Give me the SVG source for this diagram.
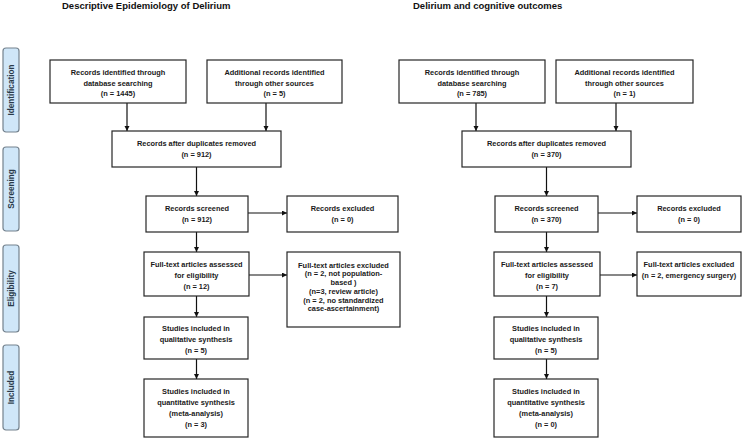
<svg xmlns="http://www.w3.org/2000/svg" width="743" height="439" viewBox="0 0 743 439">
<style>
.bg{fill:#ffffff}
.box rect{fill:#ffffff;stroke:#262626;stroke-width:1.2}
.box text, .t{font-family:"Liberation Sans",Arial,sans-serif;font-weight:bold;font-size:7.4px;fill:#1a1a1a;text-anchor:middle}
.title{font-family:"Liberation Sans",Arial,sans-serif;font-weight:bold;font-size:9.5px;fill:#111111}
.phase rect{fill:#cfe6f8;stroke:#74828e;stroke-width:1.2}
.phase text{font-family:"Liberation Sans",Arial,sans-serif;font-weight:bold;font-size:8.2px;fill:#2a3a4a;text-anchor:middle}
.conn line{stroke:#111111;stroke-width:1.2;marker-end:url(#ah)}
</style>
<defs>
<marker id="ah" markerUnits="userSpaceOnUse" markerWidth="6" markerHeight="6" refX="5" refY="2.5" orient="auto">
<path d="M0,0 L5,2.5 L0,5 Z" fill="#111111"/>
</marker>
</defs>
<rect class="bg" x="0" y="0" width="743" height="439"/>
<text class="title" x="62" y="9">Descriptive Epidemiology of Delirium</text>
<text class="title" x="413" y="9">Delirium and cognitive outcomes</text>

<g id="phase-identification" class="phase"><rect x="3" y="48" width="16" height="84" rx="3"/><text transform="translate(14,90) rotate(-90)">Identification</text></g>
<g id="phase-screening" class="phase"><rect x="3" y="147" width="16" height="84" rx="3"/><text transform="translate(14,189) rotate(-90)">Screening</text></g>
<g id="phase-eligibility" class="phase"><rect x="3" y="245" width="16" height="87" rx="3"/><text transform="translate(14,288.5) rotate(-90)">Eligibility</text></g>
<g id="phase-included" class="phase"><rect x="3" y="345" width="16" height="85" rx="3"/><text transform="translate(14,387.5) rotate(-90)">Included</text></g>

<g id="connectors" class="conn">
<line x1="127" y1="103" x2="127" y2="131"/>
<line x1="266" y1="103" x2="266" y2="131"/>
<line x1="196.5" y1="167" x2="196.5" y2="196"/>
<line x1="248" y1="213" x2="287" y2="213"/>
<line x1="196.5" y1="232" x2="196.5" y2="252"/>
<line x1="249" y1="275" x2="287" y2="275"/>
<line x1="196.5" y1="296" x2="196.5" y2="317"/>
<line x1="196.5" y1="359" x2="196.5" y2="379"/>
<line x1="476" y1="103" x2="476" y2="131"/>
<line x1="616" y1="103" x2="616" y2="131"/>
<line x1="546.5" y1="167" x2="546.5" y2="196"/>
<line x1="598" y1="213" x2="637" y2="213"/>
<line x1="546.5" y1="232" x2="546.5" y2="252"/>
<line x1="600" y1="275" x2="637" y2="275"/>
<line x1="546.5" y1="296" x2="546.5" y2="317"/>
<line x1="546.5" y1="359" x2="546.5" y2="379"/>
</g>

<g id="L1" class="box"><rect x="50" y="60" width="136" height="43"/><text x="118" y="74.7">Records identified through</text><text x="118" y="85.7">database searching</text><text x="118" y="96">(n = 1445)</text></g>
<g id="L2" class="box"><rect x="207" y="60" width="135" height="43"/><text x="274.5" y="74.7">Additional records identified</text><text x="274.5" y="85.7">through other sources</text><text x="274.5" y="96">(n = 5)</text></g>
<g id="L3" class="box"><rect x="112" y="131" width="169" height="36"/><text x="196.5" y="145.7">Records after duplicates removed</text><text x="196.5" y="156.7">(n = 912)</text></g>
<g id="L4" class="box"><rect x="146" y="196" width="102" height="36"/><text x="197" y="210.7">Records screened</text><text x="197" y="221.7">(n = 912)</text></g>
<g id="L5" class="box"><rect x="287" y="196" width="111" height="36"/><text x="342.5" y="210.7">Records excluded</text><text x="342.5" y="221.7">(n = 0)</text></g>
<g id="L6" class="box"><rect x="144" y="252" width="105" height="44"/><text x="196.5" y="266.7">Full-text articles assessed</text><text x="196.5" y="277.7">for eligibility</text><text x="196.5" y="288.7">(n = 12)</text></g>
<g id="L7" class="box"><rect x="287" y="252" width="113" height="75"/><text x="343.5" y="267.7">Full-text articles excluded</text><text x="343.5" y="276.4">(n = 2,  not population-</text><text x="343.5" y="285.1">based )</text><text x="343.5" y="293.8">(n=3, review article)</text><text x="343.5" y="302.5">(n = 2,  no standardized</text><text x="343.5" y="311.2">case-ascertainment)</text></g>
<g id="L8" class="box"><rect x="144" y="317" width="104" height="42"/><text x="196" y="330.7">Studies included in</text><text x="196" y="341.7">qualitative synthesis</text><text x="196" y="352.7">(n = 5)</text></g>
<g id="L9" class="box"><rect x="144" y="379" width="104" height="58"/><text x="196" y="393.7">Studies included in</text><text x="196" y="404.7">quantitative synthesis</text><text x="196" y="415.7">(meta-analysis)</text><text x="196" y="426.7">(n =  3)</text></g>

<g id="R1" class="box"><rect x="399" y="60" width="146" height="43"/><text x="472" y="74.7">Records identified through</text><text x="472" y="85.7">database searching</text><text x="472" y="96">(n = 785)</text></g>
<g id="R2" class="box"><rect x="556" y="60" width="137" height="43"/><text x="624.5" y="74.7">Additional records identified</text><text x="624.5" y="85.7">through other sources</text><text x="624.5" y="96">(n = 1)</text></g>
<g id="R3" class="box"><rect x="462" y="131" width="169" height="36"/><text x="546.5" y="145.7">Records after duplicates removed</text><text x="546.5" y="156.7">(n = 370)</text></g>
<g id="R4" class="box"><rect x="495" y="196" width="103" height="36"/><text x="546.5" y="210.7">Records screened</text><text x="546.5" y="221.7">(n = 370)</text></g>
<g id="R5" class="box"><rect x="637" y="196" width="104" height="36"/><text x="689" y="210.7">Records excluded</text><text x="689" y="221.7">(n = 0)</text></g>
<g id="R6" class="box"><rect x="494" y="252" width="106" height="44"/><text x="547" y="266.7">Full-text articles assessed</text><text x="547" y="277.7">for eligibility</text><text x="547" y="288.7">(n = 7)</text></g>
<g id="R7" class="box"><rect x="637" y="252" width="104" height="44"/><text x="689" y="266.7">Full-text articles excluded</text><text x="689" y="277.7">(n = 2,  emergency surgery)</text></g>
<g id="R8" class="box"><rect x="494" y="317" width="104" height="42"/><text x="546" y="330.7">Studies included in</text><text x="546" y="341.7">qualitative synthesis</text><text x="546" y="352.7">(n = 5)</text></g>
<g id="R9" class="box"><rect x="494" y="379" width="104" height="58"/><text x="546" y="393.7">Studies included in</text><text x="546" y="404.7">quantitative synthesis</text><text x="546" y="415.7">(meta-analysis)</text><text x="546" y="426.7">(n =  0)</text></g>
</svg>
